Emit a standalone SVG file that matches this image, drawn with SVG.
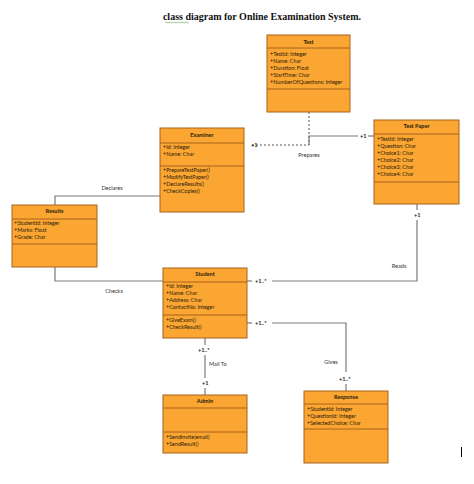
<svg xmlns="http://www.w3.org/2000/svg" width="474" height="484" viewBox="0 0 474 484">
<style>
.box{fill:#FBA533;stroke:#A8631C;stroke-width:1}
.sep{stroke:#A8631C;stroke-width:1}
.h{font-family:Lato,"Liberation Sans",sans-serif;font-size:5.6px;font-weight:bold;fill:#2a1c08;text-anchor:middle}
.t{font-family:Lato,"Liberation Sans",sans-serif;font-size:5.4px;fill:#2a1c08}
.c{fill:none;stroke:#7a7a7a;stroke-width:1.2}
.d{fill:none;stroke:#555;stroke-width:1;stroke-dasharray:2,2}
.l{font-family:Lato,"Liberation Sans",sans-serif;font-size:5.6px;fill:#333}
.m{font-family:Lato,"Liberation Sans",sans-serif;font-size:5.6px;fill:#222;font-weight:bold}
</style>
<rect width="474" height="484" fill="#fff"/>
<text x="262" y="20" font-family="'Liberation Serif',serif" font-size="10" font-weight="bold" text-anchor="middle" fill="#111">class diagram  for Online Examination  System.</text>
<path d="M165 22.5 q1 -1 2 0 t2 0 t2 0 t2 0 t2 0 t2 0 t2 0 t2 0 t2 0 t2 0 t2 0 t2 0" fill="none" stroke="#6a9a4a" stroke-width="0.6"/>

<g id="connectors">
  <!-- Prepares -->
  <path class="d" d="M309 112 V145 H250"/>
  <path class="c" d="M309 145 V136 H358"/>
  <path class="c" d="M368 136 H375"/>
  <text class="m" x="251" y="147">+1</text>
  <text class="m" x="360" y="138">+1</text>
  <text class="l" x="309" y="157" text-anchor="middle">Prepares</text>
  <!-- Declares -->
  <path class="c" d="M55 205 V196 H160"/>
  <text class="l" x="112" y="190" text-anchor="middle">Declares</text>
  <!-- Checks -->
  <path class="c" d="M55 267 V281 H163"/>
  <text class="l" x="114" y="293" text-anchor="middle">Checks</text>
  <!-- Reads -->
  <path class="c" d="M247 281 H252"/>
  <path class="c" d="M272 281 H417 V220"/>
  <path class="c" d="M417 204 V210"/>
  <text class="m" x="255" y="283">+1..*</text>
  <text class="m" x="414" y="217">+1</text>
  <text class="l" x="399" y="268" text-anchor="middle">Reads</text>
  <!-- Gives -->
  <path class="c" d="M247 323 H252"/>
  <path class="c" d="M272 323 H346 V372"/>
  <path class="c" d="M346 384 V391"/>
  <text class="m" x="255" y="325">+1..*</text>
  <text class="m" x="339" y="381">+1..*</text>
  <text class="l" x="331" y="364" text-anchor="middle">Gives</text>
  <!-- Mail To -->
  <path class="c" d="M205 338 V345"/>
  <path class="c" d="M205 355 V378"/>
  <path class="c" d="M205 388 V395"/>
  <text class="m" x="198" y="352">+1..*</text>
  <text class="m" x="202" y="385">+1</text>
  <text class="l" x="209" y="366">Mail To</text>
</g>

<g id="test">
  <rect class="box" x="267" y="35" width="83" height="77"/>
  <line class="sep" x1="267" y1="48" x2="350" y2="48"/>
  <line class="sep" x1="267" y1="89" x2="350" y2="89"/>
  <text class="h" x="308.5" y="44">Test</text>
  <text class="t" x="270" y="56">+TestId: Integer</text>
  <text class="t" x="270" y="63">+Name: Char</text>
  <text class="t" x="270" y="70">+Duration: Float</text>
  <text class="t" x="270" y="77">+StartTime: Char</text>
  <text class="t" x="270" y="84">+NumberOfQuestions: Integer</text>
</g>

<g id="examiner">
  <rect class="box" x="160" y="128" width="84" height="84"/>
  <line class="sep" x1="160" y1="143" x2="244" y2="143"/>
  <line class="sep" x1="160" y1="166" x2="244" y2="166"/>
  <text class="h" x="202" y="137">Examiner</text>
  <text class="t" x="163" y="149">+Id: Integer</text>
  <text class="t" x="163" y="156">+Name: Char</text>
  <text class="t" x="163" y="172">+PrepareTestPaper()</text>
  <text class="t" x="163" y="179">+ModifyTestPaper()</text>
  <text class="t" x="163" y="186">+DeclareResults()</text>
  <text class="t" x="163" y="193">+CheckCopies()</text>
</g>

<g id="testpaper">
  <rect class="box" x="374" y="120" width="85" height="84"/>
  <line class="sep" x1="374" y1="134" x2="459" y2="134"/>
  <line class="sep" x1="374" y1="182" x2="459" y2="182"/>
  <text class="h" x="416.5" y="128">Test Paper</text>
  <text class="t" x="377" y="141">+TestId: Integer</text>
  <text class="t" x="377" y="148">+Question: Char</text>
  <text class="t" x="377" y="155">+Choice1: Char</text>
  <text class="t" x="377" y="162">+Choice2: Char</text>
  <text class="t" x="377" y="169">+Choice3: Char</text>
  <text class="t" x="377" y="176">+Choice4: Char</text>
</g>

<g id="results">
  <rect class="box" x="12" y="205" width="85" height="62"/>
  <line class="sep" x1="12" y1="219" x2="97" y2="219"/>
  <line class="sep" x1="12" y1="244" x2="97" y2="244"/>
  <text class="h" x="54.5" y="213">Results</text>
  <text class="t" x="14" y="225">+StudentId: Integer</text>
  <text class="t" x="14" y="232">+Marks: Float</text>
  <text class="t" x="14" y="239">+Grade: Char</text>
</g>

<g id="student">
  <rect class="box" x="163" y="268" width="84" height="70"/>
  <line class="sep" x1="163" y1="282" x2="247" y2="282"/>
  <line class="sep" x1="163" y1="315" x2="247" y2="315"/>
  <text class="h" x="205" y="276">Student</text>
  <text class="t" x="166" y="288">+Id: Integer</text>
  <text class="t" x="166" y="295">+Name: Char</text>
  <text class="t" x="166" y="302">+Address: Char</text>
  <text class="t" x="166" y="309">+ContactNo: Integer</text>
  <text class="t" x="166" y="322">+GiveExam()</text>
  <text class="t" x="166" y="329">+CheckResult()</text>
</g>

<g id="admin">
  <rect class="box" x="163" y="395" width="84" height="58"/>
  <line class="sep" x1="163" y1="408" x2="247" y2="408"/>
  <line class="sep" x1="163" y1="432" x2="247" y2="432"/>
  <text class="h" x="205" y="403">Admin</text>
  <text class="t" x="166" y="439">+SendInvite(email)</text>
  <text class="t" x="166" y="446">+SendResult()</text>
</g>

<g id="response">
  <rect class="box" x="304" y="391" width="84" height="72"/>
  <line class="sep" x1="304" y1="404" x2="388" y2="404"/>
  <line class="sep" x1="304" y1="429" x2="388" y2="429"/>
  <text class="h" x="346" y="399">Response</text>
  <text class="t" x="307" y="411">+StudentId: Integer</text>
  <text class="t" x="307" y="418">+QuestionId: Integer</text>
  <text class="t" x="307" y="425">+SelectedChoice: Char</text>
</g>

<line x1="461.5" y1="447" x2="461.5" y2="457" stroke="#000" stroke-width="1"/>
</svg>
